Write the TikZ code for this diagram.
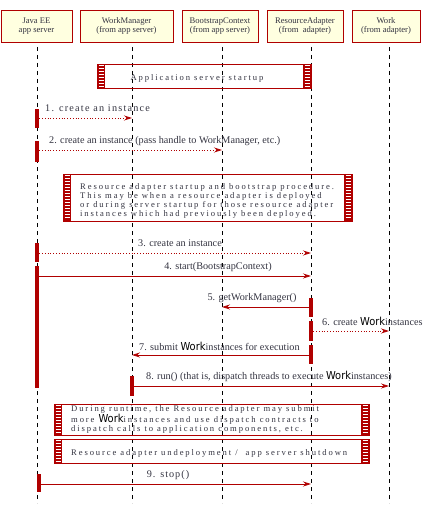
\documentclass[tikz,border=0pt]{standalone}
\usepackage{fontspec}
\setmainfont{Liberation Serif}
\newfontfamily\workfont{DejaVu Sans Condensed}
\usetikzlibrary{arrows.meta}
\definecolor{darkred}{HTML}{B00000}
\definecolor{headfill}{HTML}{FFFFE0}
\definecolor{txt}{HTML}{333340}
\newcommand\wk{{\workfont\fontsize{11}{11}\selectfont\color{black}Work}}
\newcommand\spaced{\addfontfeature{LetterSpace=22}}
% hatched end of a note box
\newcommand\hatch[3]{%
  \fill[darkred] (#1,#2) rectangle ++(8,#3-#2);
  \pgfmathsetmacro\hn{int((#3-#2)/3)}
  \foreach \k in {1,...,\hn} {\draw[white,line width=1.2pt] (#1+1.5,#2+\k*3-1.5) -- ++(5,0);}
}
\tikzset{
  head/.style={draw=darkred,fill=headfill,thick,align=center,inner sep=0pt,
    font=\fontsize{8.6}{9}\selectfont,text=txt},
  life/.style={thick,dash pattern=on 4pt off 4pt},
  bar/.style={fill=darkred,draw=none,minimum width=4,inner sep=0pt},
  msg/.style={darkred,thick,-{Stealth[length=8pt,width=5pt]}},
  call/.style={msg,dotted},
  lbl/.style={font=\fontsize{10.2}{11}\selectfont,text=txt,inner sep=1pt},
  notetext/.style={font=\fontsize{8.6}{9}\selectfont,text=txt,inner sep=0pt,align=left},
  note/.style={draw=darkred,thick}
}
\begin{document}
\begin{tikzpicture}[x=1pt,y=-1pt]
\useasboundingbox (0,0) rectangle (426,513);

% heads
\node[head,minimum width=71,minimum height=32] (jee) at (36.5,26) {Java EE\\app server};
\node[head,minimum width=93,minimum height=32] (wm) at (126.5,26) {WorkManager\\(from app server)};
\node[head,minimum width=76,minimum height=32] (bc) at (220,26) {BootstrapContext\\(from app server)};
\node[head,minimum width=76,minimum height=32] (ra) at (305,26) {ResourceAdapter\\(from\ \ adapter)};
\node[head,minimum width=68,minimum height=32] (wk) at (386,26) {Work\\(from adapter)};

% life lines
\foreach \n/\x in {jee/37,wm/132,bc/222,ra/311,wk/389} {
  \coordinate (\n top) at (\x,47);
  \coordinate (\n bot) at (\x,503);
  \draw[life] (\n top) -- (\n bot);
}

% application server startup
\draw[note] (97,64) rectangle (311,88);
\hatch{97}{64}{88}
\hatch{303}{64}{88}
\node[notetext] (st) at (197,78) {\spaced Application server startup};

% 1 and 2
\node[bar,minimum height=19,anchor=north] (b1) at (37,109) {};
\coordinate (e1) at (132,118);
\draw[call] (b1.east |- e1) -- (e1);
\node[lbl,anchor=west] (l1) at (44,108) {\addfontfeature{LetterSpace=12}1. create an instance};
\node[bar,minimum height=21,anchor=north] (b2) at (37,141) {};
\coordinate (e2) at (222,150);
\draw[call] (b2.east |- e2) -- (e2);
\node[lbl,anchor=west] (l2) at (48,141) {2. create an instance (pass handle to WorkManager, etc.)};

% bootstrap note
\draw[note] (63,174) rectangle (352,221);
\hatch{63}{174}{221}
\hatch{344}{174}{221}
\node[notetext,anchor=north west] (bn) at (80,183)
  {\spaced Resource adapter startup and bootstrap procedure.\\
   \spaced This may be when a resource adapter is deployed\\
   \spaced or during server startup for those resource adapter\\
   \spaced instances which had previously been deployed.};

% 3 and 4
\node[bar,minimum height=19,anchor=north] (b3) at (37,243) {};
\coordinate (e3) at (311,253);
\draw[call] (b3.east |- e3) -- (e3);
\node[lbl] (l3) at (180,243) {3. create an instance};
\node[bar,minimum height=122,anchor=north] (b4) at (37,266) {};
\coordinate (e4) at (311,276);
\draw[msg] (b4.east |- e4) -- (e4);
\node[lbl] (l4) at (218,267) {4. start(BootstrapContext)};

% 5, 6, 7
\node[bar,minimum height=19,anchor=north] (b5) at (311,298) {};
\coordinate (e5) at (222,307);
\draw[msg] (b5.west |- e5) -- (e5);
\node[lbl] (l5) at (252,298) {5. getWorkManager()};
\node[bar,minimum height=20,anchor=north] (b6) at (311,321) {};
\coordinate (e6) at (389,331);
\draw[call] (b6.east |- e6) -- (e6);
\node[lbl,anchor=west] (l6) at (321,321) {6. create \wk instances};
\node[bar,minimum height=19,anchor=north] (b7) at (311,345) {};
\coordinate (e7) at (132,355);
\draw[msg] (b7.west |- e7) -- (e7);
\node[lbl,anchor=west] (l7) at (138,346) {7. submit \wk instances for execution};

% 8
\node[bar,minimum height=20,anchor=north] (b8) at (132,376) {};
\coordinate (e8) at (389,386);
\draw[msg] (b8.east |- e8) -- (e8);
\node[lbl,anchor=west] (l8) at (145,376) {8. run() (that is, dispatch threads to execute \wk instances)};

% runtime note
\draw[note] (54,404) rectangle (369,435);
\hatch{54}{404}{435}
\hatch{361}{404}{435}
\node[notetext,anchor=north west] (rn) at (71,405)
  {\spaced During runtime, the Resource adapter may submit\\
   \spaced more \wk instances and use dispatch contracts to\\
   \spaced dispatch calls to application components, etc.};

% shutdown note
\draw[note] (54,439) rectangle (369,463);
\hatch{54}{439}{463}
\hatch{361}{439}{463}
\node[notetext,anchor=west] (sn) at (71,453) {\spaced Resource adapter undeployment /\ \ app server shutdown};

% 9
\node[bar,minimum height=18,anchor=north] (b9) at (39,474) {};
\coordinate (e9) at (311,484);
\draw[msg] (b9.east |- e9) -- (e9);
\node[lbl] (l9) at (168,475) {\addfontfeature{LetterSpace=10}9. stop()};
\end{tikzpicture}
\end{document}
